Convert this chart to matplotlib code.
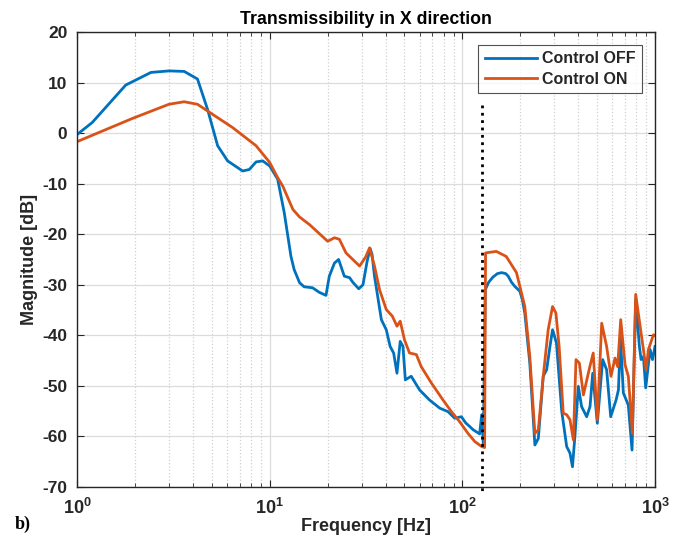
import matplotlib
matplotlib.use("Agg")
import matplotlib.pyplot as plt
from matplotlib.ticker import LogLocator, NullFormatter, FixedLocator, FixedFormatter

plt.rcParams['font.family'] = ['Liberation Sans', 'DejaVu Sans']
plt.rcParams['font.weight'] = 'bold'
plt.rcParams['axes.unicode_minus'] = False
plt.rcParams['mathtext.fontset'] = 'custom'
plt.rcParams['mathtext.bf'] = 'Liberation Sans:bold'
plt.rcParams['mathtext.rm'] = 'Liberation Sans:bold'

# transmissibility, controller off
freq_off = [1.0, 1.2, 1.79, 2.42, 3.0, 3.6, 4.22, 4.76, 5.37, 6.05, 7.24, 7.84,
            8.5, 9.2, 10.0, 11.0, 11.9, 12.9, 13.4, 14.3, 15.1, 16.7, 18.1, 19.6,
            20.4, 21.7, 22.8, 24.4, 26.0, 27.0, 29.0, 30.5, 32.0, 33.2, 34.0, 35.0,
            38.0, 40.3, 42.2, 44.0, 45.8, 47.6, 49.2, 50.6, 54.3, 60.0, 67.6, 76.3,
            84.3, 91.3, 98.9, 104, 114, 123, 126, 128.5, 131.5, 137, 144, 152,
            160, 168, 173, 180, 187, 199, 205, 211, 224, 238, 248, 263,
            274, 285, 294, 308, 328, 348, 362, 373, 384, 400, 416, 442,
            460, 475, 502, 535, 561, 589, 628, 646, 662, 685, 727, 760,
            794, 830, 847, 871, 895, 943, 971, 1000]
mag_off = [-0.3, 2.1, 9.5, 12.0, 12.3, 12.2, 10.7, 4.7, -2.5, -5.5, -7.5, -7.2,
           -5.7, -5.5, -6.5, -9.1, -15.7, -24.4, -27.0, -29.6, -30.4, -30.6, -31.5, -32.1,
           -28.3, -25.7, -25.0, -28.3, -28.6, -29.5, -30.8, -30.0, -25.5, -22.8, -24.0, -28.3,
           -36.9, -38.9, -42.2, -43.5, -47.5, -41.2, -42.2, -48.8, -48.1, -50.8, -52.8, -54.4,
           -55.1, -56.4, -56.1, -57.3, -58.7, -59.5, -55.7, -61.5, -31.0, -29.5, -28.5, -27.8,
           -27.6, -27.8, -28.3, -29.5, -30.3, -31.3, -33.0, -35.6, -45.5, -61.7, -60.4, -48.1,
           -46.8, -42.2, -38.9, -41.5, -55.0, -62.0, -63.3, -66.0, -60.0, -50.1, -54.1, -56.1,
           -54.1, -47.5, -57.4, -44.8, -46.8, -56.1, -52.8, -50.8, -40.5, -51.4, -53.8, -62.7,
           -32.9, -42.2, -44.8, -44.2, -50.4, -42.8, -44.8, -42.2]

# transmissibility, controller on
freq_on = [1.0, 1.94, 3.0, 3.6, 4.22, 5.06, 6.42, 8.5, 10.0, 11.0, 11.7, 13.2,
           14.3, 16.1, 20.0, 21.7, 23.0, 24.9, 27.0, 29.3, 31.5, 33.0, 35.0, 37.2,
           40.3, 43.3, 45.8, 47.6, 50.1, 53.2, 57.7, 61.2, 69.0, 79.4, 87.8, 96.9,
           107, 116, 126, 130.5, 132, 150, 169, 191, 211, 224, 238, 248,
           263, 279, 294, 306, 318, 334, 348, 362, 377, 389, 405, 425,
           459, 478, 502, 529, 561, 591, 620, 640, 664, 699, 727, 763,
           794, 837, 871, 899, 925, 981, 1000]
mag_on = [-1.7, 2.9, 5.7, 6.2, 5.7, 3.7, 1.1, -2.5, -5.8, -8.8, -10.5, -15.1,
          -16.6, -18.1, -21.4, -20.7, -21.0, -23.7, -25.0, -26.3, -24.5, -22.7, -26.3, -31.0,
          -34.9, -36.2, -38.2, -37.2, -40.9, -43.5, -43.8, -46.2, -49.4, -52.8, -55.1, -57.1,
          -59.4, -61.0, -62.0, -62.2, -23.7, -23.4, -24.4, -27.6, -34.3, -44.2, -59.4, -58.7,
          -48.1, -38.9, -34.3, -35.6, -42.2, -55.4, -55.7, -56.7, -60.7, -44.8, -45.5, -51.8,
          -46.2, -43.5, -56.7, -37.6, -42.2, -48.1, -44.5, -46.2, -36.9, -45.8, -48.1, -59.4,
          -31.9, -38.2, -42.8, -46.8, -42.8, -39.9, -40.0]

f_cut = 126
cut_top = 5.5

decades = [1, 10, 100, 1000]
decade_labels = [r'$\mathbf{10^{0}}$', r'$\mathbf{10^{1}}$', r'$\mathbf{10^{2}}$', r'$\mathbf{10^{3}}$']

fig = plt.figure(figsize=(6.82, 5.42), dpi=100)
ax = fig.add_axes([0.1129, 0.1015, 0.8475, 0.8395])

ax.semilogx(freq_off, mag_off, color='#0072BD', lw=2, label='Control OFF',
            solid_joinstyle='round')
ax.semilogx(freq_on, mag_on, color='#D95319', lw=2, label='Control ON',
            solid_joinstyle='round')
ax.plot([f_cut, f_cut], [cut_top, -71.6], color='black', ls=':', lw=2, clip_on=False)

ax.set_xlim(1, 1000)
ax.set_ylim(-70, 20)
ax.set_yticks(range(-70, 21, 10))
ax.xaxis.set_major_locator(FixedLocator(decades))
ax.xaxis.set_major_formatter(FixedFormatter(decade_labels))
ax.xaxis.set_minor_locator(LogLocator(base=10, subs=range(2, 10)))
ax.xaxis.set_minor_formatter(NullFormatter())

ax.grid(True, which='major', color='#dcdcdc', lw=0.9)
ax.grid(True, which='minor', axis='x', color='#d0d0d0', ls=':', lw=0.9)
ax.set_axisbelow(True)

for s in ax.spines.values():
    s.set_color('#262626')
    s.set_linewidth(1.0)
ax.tick_params(which='both', direction='in', top=True, right=True, colors='#262626')
ax.tick_params(which='major', length=5)
ax.tick_params(which='minor', length=3)
ax.tick_params(axis='y', labelsize=12.5, pad=7)
ax.tick_params(axis='x', labelsize=13, pad=8)
for lbl in ax.get_yticklabels():
    lbl.set_fontweight('bold')

ax.set_title('Transmissibility in X direction', fontsize=12.8, fontweight='bold', color='black', pad=6)
ax.set_xlabel('Frequency [Hz]', fontsize=13, fontweight='bold', color='#262626', labelpad=0)
ax.set_ylabel('Magnitude [dB]', fontsize=13, fontweight='bold', color='#262626', labelpad=3)

leg = ax.legend(loc='upper right', fontsize=11.5, frameon=True, fancybox=False,
                handlelength=3.3, handletextpad=0.3, borderaxespad=0.8,
                labelspacing=0.35, borderpad=0.4)
leg.get_frame().set_edgecolor('#262626')
leg.get_frame().set_linewidth(0.8)
for t in leg.get_texts():
    t.set_color('#262626')

fig.text(0.022, 0.025, 'b)', fontsize=13, fontweight='bold', family='Liberation Serif')

fig.savefig('out.png', dpi=100)
